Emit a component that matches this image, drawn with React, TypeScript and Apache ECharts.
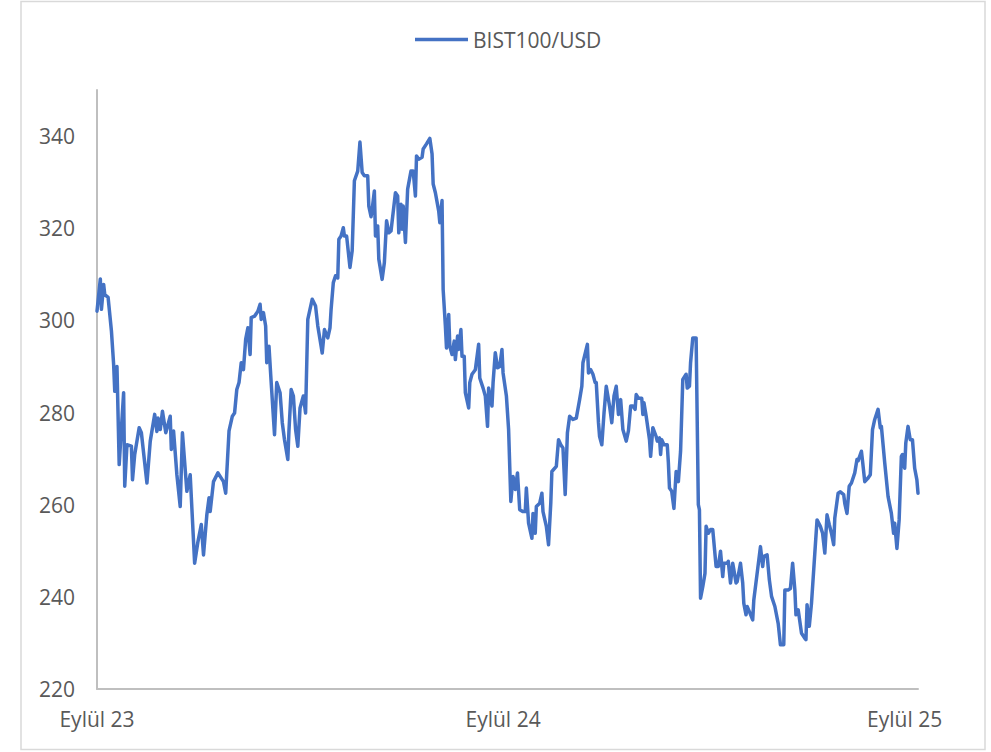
import React, { useEffect, useRef } from "react";
import * as echarts from "echarts";

// Days elapsed since the start of September 2023 for each observation
const tradingDays: number[] = [
  0, 3, 4, 6, 7, 10, 13, 15, 16, 18,
  20, 24, 25, 27, 31, 32, 34, 38, 40, 45,
  48, 52, 54, 55, 57, 59, 62, 66, 67, 69,
  72, 75, 77, 81, 84, 88, 91, 94, 96, 99,
  101, 102, 105, 109, 114, 116, 119, 122, 124, 126,
  128, 130, 132, 134, 136, 138, 139, 142, 145, 147,
  148, 150, 152, 153, 155, 157, 160, 162, 165, 167,
  169, 172, 173, 175, 177, 179, 181, 183, 186, 188,
  190, 194, 197, 199, 202, 203, 205, 208, 210, 211,
  213, 215, 217, 218, 220, 222, 223, 225, 228, 230,
  232, 235, 237, 239, 241, 244, 245, 247, 248, 250,
  251, 253, 254, 257, 259, 261, 263, 265, 269, 271,
  272, 274, 275, 276, 278, 280, 283, 285, 287, 288,
  290, 293, 294, 297, 300, 302, 303, 305, 308, 309,
  311, 312, 314, 315, 317, 318, 320, 322, 323, 325,
  326, 328, 329, 331, 332, 335, 336, 338, 341, 344,
  345, 348, 350, 352, 353, 356, 357, 359, 361, 363,
  365, 366, 369, 371, 373, 375, 377, 379, 381, 384,
  386, 387, 389, 392, 393, 395, 396, 399, 401, 402,
  405, 407, 409, 410, 414, 416, 418, 420, 422, 424,
  426, 429, 432, 435, 437, 438, 442, 443, 445, 447,
  449, 450, 452, 453, 455, 457, 459, 462, 464, 466,
  468, 470, 472, 474, 477, 479, 481, 483, 485, 486,
  488, 491, 492, 493, 495, 498, 499, 501, 504, 505,
  507, 508, 509, 511, 514, 515, 516, 518, 520, 522,
  524, 526, 528, 531, 532, 534, 535, 537, 540, 542,
  543, 544, 546, 548, 549, 551, 553, 555, 558, 560,
  562, 564, 565, 568, 569, 571, 573, 574, 576, 577,
  580, 582, 583, 585, 586, 588, 591, 592, 595, 598,
  600, 601, 604, 606, 608, 611, 614, 616, 619, 620,
  623, 625, 627, 629, 630, 632, 635, 638, 639, 640,
  642, 644, 647, 649, 652, 654, 656, 658, 660, 662,
  664, 665, 668, 670, 673, 674, 676, 678, 680, 683,
  685, 686, 689, 690, 692, 695, 697, 699, 701, 704,
  706, 707, 710, 713, 716, 718, 719, 721, 723, 725,
  726, 728, 729, 731, 733, 735, 737, 739, 740,
];

// BIST100 index in USD terms
const bistUsd: number[] = [
  302, 309, 302.4, 307.8, 305.6, 305, 297.7, 290.4, 284.6, 290,
  268.7, 284.3, 264, 273, 272.7, 265.4, 270.9, 276.7, 275.6, 264.7,
  273.8, 279.6, 275.9, 278.8, 276.3, 280.3, 275.6, 279.2, 272, 276,
  266.5, 259.6, 275.6, 262.9, 266.5, 247.3, 252, 255.7, 249.1, 257.8,
  261.5, 258.5, 265, 266.9, 265, 262.5, 276, 279.2, 279.9, 285,
  286.5, 290.8, 289.3, 295.9, 298.4, 292.6, 300.6, 300.9, 302, 303.5,
  300.2, 301.7, 298.8, 290.8, 294.4, 286.5, 275.2, 286.5, 284.3, 277.8,
  274.1, 269.8, 276, 285, 283.6, 276.3, 272.7, 281, 283.6, 279.9,
  300.2, 304.6, 303.1, 298.8, 294.4, 292.9, 298, 296.2, 298.4, 302.4,
  308.2, 309.7, 309.2, 317.6, 318.3, 320.1, 318.3, 318.3, 311.5, 315.1,
  330.3, 332.4, 338.7, 332.1, 331.4, 331.4, 324.8, 322.5, 324.1, 328.1,
  318.3, 320.5, 313.3, 308.9, 312.5, 321.6, 319, 319.4, 327.7, 327,
  319, 325.2, 319.8, 324.8, 316.9, 328.5, 332.4, 332.4, 327, 335.7,
  335, 335.4, 337.2, 338.3, 339.5, 336.1, 329.6, 327.7, 323.7, 321.2,
  326, 306.7, 298.8, 294, 301.3, 294.4, 292.6, 295.5, 291.5, 296.6,
  293.7, 298, 292.2, 292.2, 284.3, 281, 286.5, 288.3, 289.3, 294.8,
  287.5, 285.3, 283.6, 277, 285.3, 281.4, 286.5, 293, 289.7, 290,
  293.7, 288.6, 283.6, 276.3, 260.7, 266.1, 263.3, 266.9, 258.9, 258.5,
  258.5, 263.6, 256, 252.7, 258.1, 253.8, 259.6, 260.3, 262.5, 258.5,
  255.3, 251.3, 260.3, 267.2, 268.3, 274.1, 273, 272.3, 262.2, 275.6,
  279.2, 278.5, 278.8, 282.8, 285.7, 290.8, 294.8, 288.6, 289.3, 288.3,
  286.5, 286.5, 277.8, 274.8, 273, 279.9, 285.7, 281.4, 277.8, 283.6,
  285.7, 279.6, 282.8, 276.3, 273.8, 276, 281.4, 281.4, 280.7, 283.9,
  283.1, 283.1, 279.6, 282.1, 279.2, 274.1, 270.5, 276.7, 274.8, 273.8,
  274.5, 270.9, 274.1, 273, 273, 269.1, 263.6, 262.9, 259.2, 267.2,
  265, 271.6, 287.2, 288.3, 285.3, 285.7, 290.8, 296.2, 296.2, 260,
  258.9, 239.7, 242.2, 245.1, 255.3, 253.8, 254.6, 254.6, 246.6, 246.6,
  249.9, 244.4, 247.3, 247.3, 247.7, 243, 247.3, 245.9, 243, 243.3,
  247.3, 243, 238.6, 236.1, 237.9, 236.8, 235, 239.3, 245.1, 250.9,
  246.6, 248.8, 249.1, 243.7, 240.1, 237.9, 234.2, 229.6, 229.6, 241.5,
  241.5, 241.8, 247.3, 241.5, 236.1, 237.2, 232.1, 231, 230.7, 238.3,
  233.6, 238.6, 249.5, 256.7, 255.3, 253.8, 249.5, 257.8, 255.7, 253.8,
  251.3, 257.1, 262.5, 262.8, 262.2, 260.3, 258.1, 264, 264.7, 266.9,
  269.8, 269.5, 271.6, 269.5, 265, 265.8, 266.5, 276.3, 278.5, 280.7,
  276.7, 277, 269.1, 261.8, 258.1, 253.8, 256, 250.5, 256.7, 270.5,
  270.9, 267.9, 273.4, 277, 274.1, 274.1, 267.9, 265.4, 262.5,
];

const seriesName = "BIST100/USD";
const xTickDays: number[] = [0, 366, 728];
const xTickLabels: string[] = ["Eylül 23", "Eylül 24", "Eylül 25"];
const yMin = 220;
const yMax = 350;
const yStep = 20;

const FONT = "'Open Sans', 'Noto Sans', sans-serif";
const TEXT_COLOR = "#595959";
const AXIS_COLOR = "#bfbfbf";
const LINE_COLOR = "#4472C4";

export default function App() {
  const ref = useRef<HTMLDivElement>(null);

  useEffect(() => {
    if (!ref.current) return;
    const chart = echarts.init(ref.current, null, { renderer: "svg" });
    const data = tradingDays.map((d, i) => [d, bistUsd[i]]);
    chart.setOption({
      animation: false,
      backgroundColor: "#ffffff",
      textStyle: { fontFamily: FONT },
      graphic: [
        {
          type: "rect",
          shape: { x: 21, y: 1.5, width: 964, height: 748 },
          style: { fill: "none", stroke: "#d9d9d9", lineWidth: 1.5 },
          silent: true,
        },
      ],
      legend: {
        data: [{ name: seriesName, icon: "rect" }],
        left: 415,
        top: 29,
        padding: 0,
        itemWidth: 53,
        itemHeight: 3.5,
        itemGap: 10,
        itemStyle: { color: LINE_COLOR, borderWidth: 0 },
        lineStyle: { width: 0 },
        textStyle: { fontFamily: FONT, fontSize: 21, color: TEXT_COLOR, padding: [0, 0, 0, 0] },
      },
      grid: {
        left: 97,
        right: 73,
        top: 90,
        bottom: 63,
        containLabel: false,
      },
      xAxis: {
        type: "value",
        min: 0,
        max: tradingDays[tradingDays.length - 1],
        splitLine: { show: false },
        axisTick: { show: false },
        axisLine: { show: true, lineStyle: { color: AXIS_COLOR, width: 2 } },
        axisLabel: {
          customValues: xTickDays,
          formatter: (v: number) => {
            const i = xTickDays.indexOf(v);
            return i >= 0 ? xTickLabels[i] : "";
          },
          fontFamily: FONT,
          fontSize: 21,
          color: TEXT_COLOR,
          margin: 19,
          hideOverlap: false,
        },
      },
      yAxis: {
        type: "value",
        min: yMin,
        max: yMax,
        interval: yStep,
        splitLine: { show: false },
        axisTick: { show: false },
        axisLine: { show: true, lineStyle: { color: AXIS_COLOR, width: 2 } },
        axisLabel: {
          showMaxLabel: false,
          fontFamily: FONT,
          fontSize: 21,
          color: TEXT_COLOR,
          margin: 22,
        },
      },
      series: [
        {
          name: seriesName,
          type: "line",
          data,
          symbol: "none",
          showSymbol: false,
          lineStyle: { color: LINE_COLOR, width: 3.5, join: "round", cap: "round" },
          itemStyle: { color: LINE_COLOR },
        },
      ],
    });
    return () => chart.dispose();
  }, []);

  return (
    <div
      ref={ref}
      style={{ position: "absolute", left: 0, top: 0, width: 991, height: 752 }}
    />
  );
}
